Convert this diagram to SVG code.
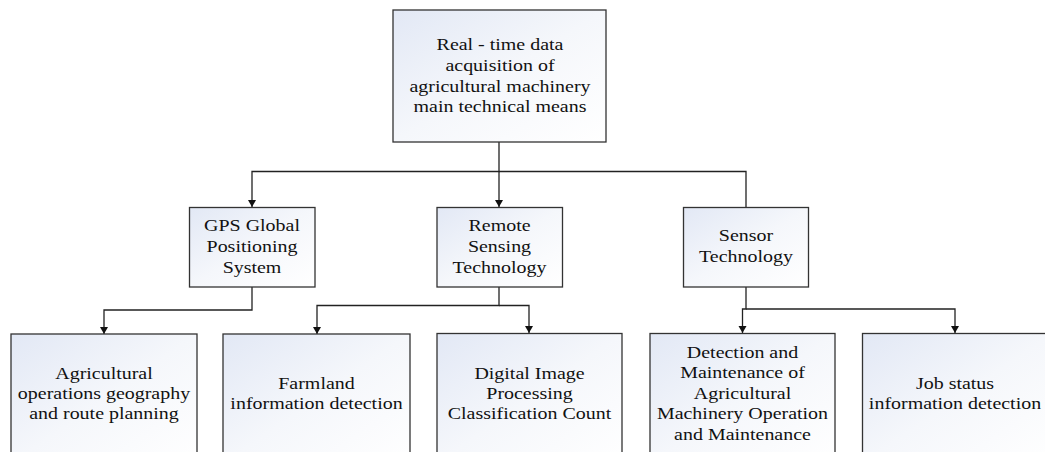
<svg xmlns="http://www.w3.org/2000/svg" width="1045" height="452" viewBox="0 0 1045 452">
<defs>
<linearGradient id="g" x1="0" y1="0" x2="1" y2="1">
<stop offset="0" stop-color="#e2e8f5"/>
<stop offset="0.5" stop-color="#f5f7fb"/>
<stop offset="1" stop-color="#ffffff"/>
</linearGradient>
<marker id="ar" markerWidth="10" markerHeight="10" refX="7" refY="4" orient="auto" markerUnits="userSpaceOnUse" viewBox="0 0 10 10">
<path d="M0,0 L7,4 L0,8 Z" fill="#111"/>
</marker>
</defs>
<style>
.box{fill:url(#g);stroke:#333;stroke-width:1.3}
text{font-family:'Liberation Serif','DejaVu Serif',serif;font-size:16.5px;fill:#111;text-anchor:middle}
.c{fill:none;stroke:#222;stroke-width:1.3}
</style>
<g id="connectors">
<path class="c" d="M499,142 V171.5 H252 V207" marker-end="url(#ar)"/>
<path class="c" d="M499,171.5 V207" marker-end="url(#ar)"/>
<path class="c" d="M499,171.5 H746 V207"/>
<path class="c" d="M252,287 V310 H104 V334" marker-end="url(#ar)"/>
<path class="c" d="M499,287 V305.5 H317 V334" marker-end="url(#ar)"/>
<path class="c" d="M499,305.5 H529 V333" marker-end="url(#ar)"/>
<path class="c" d="M746,287 V309 H742.5 V333" marker-end="url(#ar)"/>
<path class="c" d="M746,309 H955 V333" marker-end="url(#ar)"/>
</g>
<g id="n-top">
<rect class="box" x="393" y="10" width="213" height="132"/>
<g transform="translate(500,0) scale(1.21,1)">
<text x="0" y="50">Real - time data</text>
<text x="0" y="71">acquisition of</text>
<text x="0" y="92">agricultural machinery</text>
<text x="0" y="112.5">main technical means</text>
</g>
</g>
<g id="n-gps">
<rect class="box" x="189.5" y="207.5" width="125.5" height="79.5"/>
<g transform="translate(252,0) scale(1.21,1)">
<text x="0" y="231.5">GPS Global</text>
<text x="0" y="252.5">Positioning</text>
<text x="0" y="273.5">System</text>
</g>
</g>
<g id="n-remote">
<rect class="box" x="437" y="207.5" width="125.5" height="79.5"/>
<g transform="translate(499.5,0) scale(1.21,1)">
<text x="0" y="231.5">Remote</text>
<text x="0" y="252.5">Sensing</text>
<text x="0" y="273.5">Technology</text>
</g>
</g>
<g id="n-sensor">
<rect class="box" x="683.5" y="207.5" width="125" height="79.5"/>
<g transform="translate(746,0) scale(1.21,1)">
<text x="0" y="241.5">Sensor</text>
<text x="0" y="262.5">Technology</text>
</g>
</g>
<g id="n-agri">
<rect class="box" x="11" y="334" width="186" height="130"/>
<g transform="translate(104,0) scale(1.21,1)">
<text x="0" y="379">Agricultural</text>
<text x="0" y="399">operations geography</text>
<text x="0" y="419">and route planning</text>
</g>
</g>
<g id="n-farm">
<rect class="box" x="223" y="334" width="187" height="130"/>
<g transform="translate(316.5,0) scale(1.21,1)">
<text x="0" y="389">Farmland</text>
<text x="0" y="409">information detection</text>
</g>
</g>
<g id="n-digital">
<rect class="box" x="437" y="333.5" width="185" height="130"/>
<g transform="translate(529.5,0) scale(1.21,1)">
<text x="0" y="379">Digital Image</text>
<text x="0" y="399">Processing</text>
<text x="0" y="419">Classification Count</text>
</g>
</g>
<g id="n-detect">
<rect class="box" x="650" y="333.5" width="185" height="130"/>
<g transform="translate(742.5,0) scale(1.21,1)">
<text x="0" y="358">Detection and</text>
<text x="0" y="378.5">Maintenance of</text>
<text x="0" y="399">Agricultural</text>
<text x="0" y="419.5">Machinery Operation</text>
<text x="0" y="440">and Maintenance</text>
</g>
</g>
<g id="n-job">
<rect class="box" x="862.5" y="333.5" width="190" height="130"/>
<g transform="translate(955,0) scale(1.21,1)">
<text x="0" y="389">Job status</text>
<text x="0" y="409">information detection</text>
</g>
</g>
</svg>
